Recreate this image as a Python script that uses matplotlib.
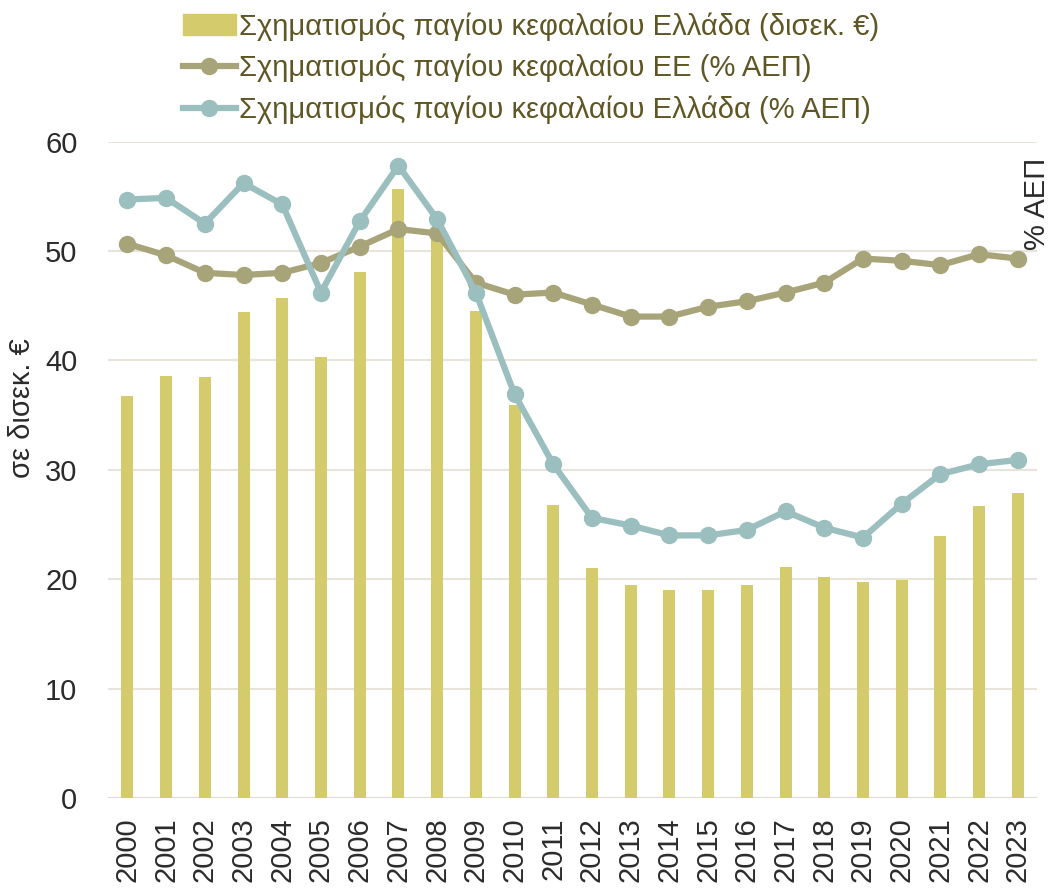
import numpy as np
import matplotlib.pyplot as plt
from matplotlib.lines import Line2D
from matplotlib.patches import Patch

years = [str(y) for y in range(2000, 2024)]

gfcf_gr_bn = [36.7, 38.6, 38.5, 44.4, 45.7, 40.3, 48.1, 55.7, 51.3, 44.5, 35.9, 26.8,
              21.0, 19.5, 19.0, 19.0, 19.45, 21.1, 20.2, 19.75, 19.95, 23.95, 26.7, 27.9]
gfcf_eu_pct = [50.65, 49.6, 48.0, 47.8, 48.0, 48.9, 50.4, 52.0, 51.6, 47.1, 46.0, 46.2,
               45.1, 44.0, 44.0, 44.9, 45.4, 46.2, 47.1, 49.3, 49.1, 48.7, 49.7, 49.3]
gfcf_gr_pct = [54.7, 54.85, 52.5, 56.2, 54.25, 46.2, 52.7, 57.8, 52.9, 46.2, 36.9, 30.5,
               25.6, 24.9, 24.0, 24.0, 24.5, 26.2, 24.7, 23.8, 26.9, 29.6, 30.5, 30.9]

labels = ["Σχηματισμός παγίου κεφαλαίου Ελλάδα (δισεκ. €)",
          "Σχηματισμός παγίου κεφαλαίου ΕΕ (% ΑΕΠ)",
          "Σχηματισμός παγίου κεφαλαίου Ελλάδα (% ΑΕΠ)"]

bar_col = "#D3CB6C"
eu_col = "#A8A47A"
gr_col = "#9BBFBE"
txt_col = "#5E5624"

plt.rcParams['font.family'] = ['Liberation Sans', 'DejaVu Sans']

fig = plt.figure(figsize=(10.53, 8.89), dpi=100)
ax = fig.add_axes([0.1026, 0.1024, 0.8824, 0.7384])

x = np.arange(len(years))
ax.bar(x, gfcf_gr_bn, width=0.31, color=bar_col, zorder=2)
ax.plot(x, gfcf_eu_pct, color=eu_col, lw=4.5, marker='o', ms=11.5, zorder=3)
ax.plot(x, gfcf_gr_pct, color=gr_col, lw=4.5, marker='o', ms=11.5, zorder=4)

ax.set_xlim(-0.5, len(years) - 0.5)
ax.set_ylim(0, 60)
ax.set_yticks(range(0, 61, 10))
ax.set_xticks(x)
ax.set_xticklabels(years, rotation=90)
ax.tick_params(axis='both', length=0, labelsize=21, colors="#2B2B2B")
ax.tick_params(axis='y', pad=22)
ax.tick_params(axis='x', pad=14)
ax.grid(axis='y', color="#E8E4DC", lw=1.5, zorder=0)
ax.set_axisbelow(True)
for s in ax.spines.values():
    s.set_visible(False)
ax.axhline(0, color="#E0DCD2", lw=1.5, zorder=1)

ax.set_ylabel("σε δισεκ. €", fontsize=21, color="#2B2B2B", labelpad=10)
ax.yaxis.set_label_coords(-0.078, 0.594)
fig.text(0.985, 0.7705, "% ΑΕΠ", rotation=90, fontsize=21, color="#2B2B2B",
         ha='center', va='center')

handles = [Patch(color=bar_col),
           Line2D([], [], color=eu_col, lw=4.5, marker='o', ms=11.5),
           Line2D([], [], color=gr_col, lw=4.5, marker='o', ms=11.5)]
fig.legend(handles, labels, loc='upper left', bbox_to_anchor=(0.149, 1.016),
           frameon=False, handlelength=1.8, handletextpad=0.12, labelspacing=0.46,
           prop={'size': 21}, labelcolor=txt_col)

fig.savefig("out.png", dpi=100)
